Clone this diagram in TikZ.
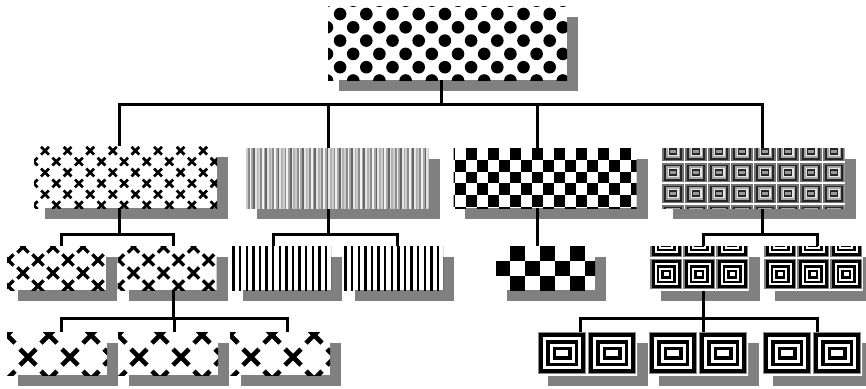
\documentclass[tikz,border=0pt]{standalone}
\usepackage{tikz}

% fill patterns, coordinates taken from the top left corner of the box
\newcommand{\polka}[6]{%
  \begin{scope}
    \clip (#1.north west) rectangle (#1.south east);
    \fill[white] (#1.north west) rectangle (#1.south east);
    \begin{scope}[shift={(#1.north west)}]
      \foreach \j in {0,...,8}
        \foreach \i in {-1,...,10}
          \fill ({#2+\i*#4+mod(\j,2)*#4/2},{#3+\j*#5}) circle[radius=#6];
    \end{scope}
  \end{scope}}

\newcommand{\crosses}[7]{%
  \begin{scope}
    \clip (#1.north west) rectangle (#1.south east);
    \fill[white] (#1.north west) rectangle (#1.south east);
    \begin{scope}[shift={(#1.north west)}, line width=#7]
      \foreach \j in {0,...,8}
        \foreach \i in {-1,...,10} {
          \pgfmathsetmacro{\cx}{#2+\i*#4+mod(\j,2)*#4/2}
          \pgfmathsetmacro{\cy}{#3+\j*#5}
          \draw (\cx-#6,\cy-#6) -- (\cx+#6,\cy+#6)
                (\cx-#6,\cy+#6) -- (\cx+#6,\cy-#6);
        }
    \end{scope}
  \end{scope}}

\newcommand{\checks}[5]{%
  \begin{scope}
    \clip (#1.north west) rectangle (#1.south east);
    \fill[white] (#1.north west) rectangle (#1.south east);
    \begin{scope}[shift={(#1.north west)}]
      \foreach \j in {0,...,7}
        \foreach \i in {-1,...,17} {
          \pgfmathtruncatemacro{\odd}{mod(\i+\j+2,2)}
          \ifnum\odd=1
            \fill ({#2+\i*#4},{#3+\j*#5}) rectangle ++(#4,#5);
          \fi
        }
    \end{scope}
  \end{scope}}

\newcommand{\finestripes}[1]{%
  \begin{scope}
    \clip (#1.north west) rectangle (#1.south east);
    \fill[white] (#1.north west) rectangle (#1.south east);
    \begin{scope}[shift={(#1.north west)}]
      \foreach \r in {0,...,15}
        \foreach \k/\shd in {0/20,1/45,2/5,3/35,4/60,5/10,6/30}
          \fill[black!\shd] ({0.6+(\r*7+\k)*1.75},-1) rectangle ++(1.75,80);
    \end{scope}
  \end{scope}}

\newcommand{\bars}[3]{%
  \begin{scope}
    \clip (#1.north west) rectangle (#1.south east);
    \fill[white] (#1.north west) rectangle (#1.south east);
    \begin{scope}[shift={(#1.north west)}]
      \foreach \i in {0,...,20}
        \fill ({0.3+\i*#2},-1) rectangle ++(#3,60);
    \end{scope}
  \end{scope}}

\newcommand{\rings}[6]{%
  \begin{scope}
    \clip (#1.north west) rectangle (#1.south east);
    \fill[white] (#1.north west) rectangle (#1.south east);
    \begin{scope}[shift={(#1.north west)}]
      \foreach \j in {0,...,3}
        \foreach \i in {0,...,8}
          \foreach \d/\col in {#6}
            \fill[\col] ({#2+\i*#4+\d},{#3+\j*#5+\d})
              rectangle ({#2+(\i+1)*#4-\d},{#3+(\j+1)*#5-\d});
    \end{scope}
  \end{scope}}

\begin{document}
\begin{tikzpicture}[
    x=1pt, y=-1pt,
    box/.style={rectangle, inner sep=0pt, outer sep=0pt},
    box_top/.style={box, minimum width=239pt, minimum height=74pt},
    box_one/.style={box, minimum width=183pt, minimum height=60pt},
    box_two/.style={box, minimum width=99pt, minimum height=44pt},
    box_three/.style={box, minimum width=100pt, minimum height=43pt},
    shadow_fill/.style={fill=black!50},
    link/.style={line width=3pt}
]
    \useasboundingbox (0,0) rectangle (866,388);

    \node[box_top] (R) at (447.5,43) {};

    \node[box_one, minimum height=62pt] (X) at (125.5,177) {};
    \node[box_one] (V) at (337,178) {};
    \node[box_one] (C) at (545,178) {};
    \node[box_one] (S) at (753,178) {};

    \node[box_two] (X1) at (56.5,268) {};
    \node[box_two] (X2) at (167,268) {};
    \node[box_two] (V1) at (281.5,268) {};
    \node[box_two] (V2) at (393.5,268) {};
    \node[box_two] (C1) at (545.5,268) {};
    \node[box_two] (S1) at (699,268) {};
    \node[box_two] (S2) at (813,268) {};

    \node[box_three] (X21) at (57,353.5) {};
    \node[box_three] (X22) at (168,353.5) {};
    \node[box_three] (X23) at (280,353.5) {};
    \node[box_three] (S11) at (587,353.5) {};
    \node[box_three] (S12) at (698,353.5) {};
    \node[box_three] (S13) at (812,353.5) {};

    % shadows
    \foreach \n in {R,X,V,C,S,X1,X2,V1,V2,C1,S1,S2,X21,X22,X23,S11,S12,S13}
        \fill[shadow_fill] ([shift={(11,11)}]\n.north west) rectangle ([shift={(11,11)}]\n.south east);

    % tree lines
    \foreach \ch/\d in {X/-6.5, V/-9, C/-8, S/9}
        \draw[link] ([xshift=-6.5pt]R.south) -- ++(0,24) -| ([xshift=\d pt]\ch.north);
    \foreach \ch/\d in {X1/4.5, X2/6}
        \draw[link] ([xshift=-6.5pt]X.south) -- ++(0,26) -| ([xshift=\d pt]\ch.north);
    \foreach \ch/\d in {V1/-8.5, V2/3.5}
        \draw[link] ([xshift=-9pt]V.south) -- ++(0,26) -| ([xshift=\d pt]\ch.north);
    \draw[link] ([xshift=-8pt]C.south) -- ([xshift=-8.5pt]C1.north);
    \foreach \ch/\d in {S1/4, S2/4}
        \draw[link] ([xshift=9pt]S.south) -- ++(0,26) -| ([xshift=\d pt]\ch.north);
    \foreach \ch/\d in {X21/4, X22/6, X23/7}
        \draw[link] ([xshift=6pt]X2.south) -- ++(0,28) -| ([xshift=\d pt]\ch.north);
    \foreach \ch/\d in {S11/-7, S12/5, S13/5}
        \draw[link] ([xshift=4pt]S1.south) -- ++(0,28) -| ([xshift=\d pt]\ch.north);

    % patterns
    \polka{R}{-1}{-5.3}{26.2}{13.3}{6.3}

    \crosses{X}{-0.3}{-6.2}{22.6}{10.9}{3.9}{2.7pt}
    \finestripes{V}
    \checks{C}{1.7}{0}{11}{11.8}
    \rings{S}{0}{-7}{23}{21}{0/white, 0.8/black!55, 2.5/black!85, 4.3/black!35, 6/black!10, 7.3/black!85, 8.8/black!40}

    \crosses{X1}{1}{-12}{30}{13}{5.6}{3.4pt}
    \crosses{X2}{1}{-12}{30}{13}{5.6}{3.4pt}
    \bars{V1}{6.6}{2.4}
    \bars{V2}{6.6}{2.4}
    \checks{C1}{-1}{0}{15}{15}
    \rings{S1}{0}{-20}{33}{32}{0/white, 0.7/black!50, 2/black, 5/white, 7/black, 9.5/white, 11.5/black, 14/white}
    \rings{S2}{0}{-20}{33}{32}{0/white, 0.7/black!50, 2/black, 5/white, 7/black, 9.5/white, 11.5/black, 14/white}

    \crosses{X21}{21}{-19}{42}{22}{8}{4.6pt}
    \crosses{X22}{21}{-19}{42}{22}{8}{4.6pt}
    \crosses{X23}{21}{-19}{42}{22}{8}{4.6pt}
    \rings{S11}{0}{-1}{50}{44}{0/white, 1/black!45, 2/black, 6/white, 9/black, 12.5/white, 15.5/black, 19/white}
    \rings{S12}{0}{-1}{50}{44}{0/white, 1/black!45, 2/black, 6/white, 9/black, 12.5/white, 15.5/black, 19/white}
    \rings{S13}{0}{-1}{50}{44}{0/white, 1/black!45, 2/black, 6/white, 9/black, 12.5/white, 15.5/black, 19/white}
\end{tikzpicture}
\end{document}
